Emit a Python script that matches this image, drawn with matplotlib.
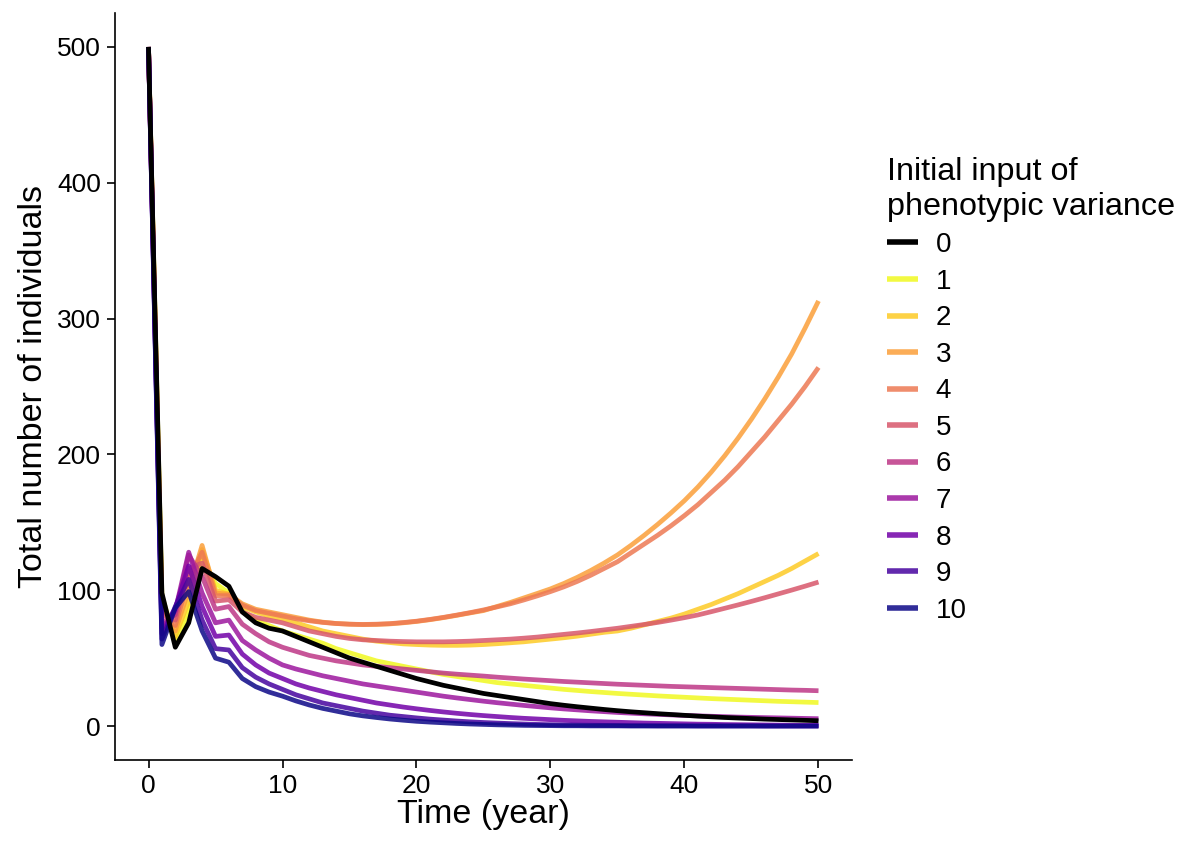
import numpy as np
import matplotlib
matplotlib.use("Agg")
from matplotlib import pyplot as plt

plt.rcParams['font.family'] = ['Liberation Sans', 'DejaVu Sans']

years = list(range(0, 51))

# total individuals per year, one list per initial phenotypic variance
var0 = [500, 98, 58, 76, 116, 110, 103, 84, 76, 72, 70, 66, 62, 58, 54, 50, 47, 44, 41, 38,
        35, 32.5, 30, 28, 26, 24, 22.5, 21, 19.5, 18, 16.5, 15.3, 14.2, 13.2, 12.2, 11.3, 10.5, 9.8, 9.1, 8.5,
        7.9, 7.3, 6.8, 6.3, 5.9, 5.5, 5.1, 4.8, 4.5, 4.2, 3.9]
var1 = [500, 96, 62, 84, 122, 105, 98, 85, 78, 74, 70, 67, 64, 61, 57, 54, 51, 48, 46, 44,
        42, 40, 38, 36.5, 35, 33.5, 32, 31, 30, 29, 28, 27, 26.2, 25.4, 24.7, 24, 23.4, 22.8, 22.2, 21.7,
        21.2, 20.7, 20.2, 19.8, 19.4, 19, 18.6, 18.2, 17.9, 17.6, 17.3]
var2 = [500, 93, 66, 92, 130, 100, 97, 88, 84, 81, 79, 76, 73, 70, 68, 66, 64, 62.5, 61.5, 60.5,
        60, 59.6, 59.4, 59.4, 59.6, 60, 60.6, 61.3, 62, 63, 64, 65, 66.2, 67.6, 69, 70, 72, 74.5, 77, 79.5,
        82.5, 86, 89.5, 93.5, 97.5, 102, 106.5, 111, 116, 121.5, 127]
var3 = [500, 90, 70, 100, 133, 98, 97, 90, 86, 84, 82, 80, 78, 76.5, 75.5, 75, 74.7, 74.8, 75.2, 76,
        77, 78.3, 79.8, 81.5, 83.3, 85, 88, 91, 94.3, 97.6, 101, 105, 109.5, 114.5, 120, 126, 133, 140.5, 148.5, 157,
        166, 176, 187, 199, 212, 226, 241, 257, 274, 293, 313]
var4 = [500, 86, 74, 108, 128, 96, 96, 89, 85, 83, 81, 79, 77.5, 76.3, 75.5, 75, 74.8, 75, 75.4, 76.2,
        77.2, 78.5, 80, 81.7, 83.5, 85.5, 87.7, 90, 92.8, 95.8, 99, 102.5, 106.5, 111, 116, 121, 127.5, 134, 140.5, 147.5,
        155, 163, 172, 181, 191, 202, 213, 225, 237, 250, 264]
var5 = [500, 82, 78, 116, 120, 92, 93, 84, 80, 78, 76, 73, 70, 68, 66, 64.5, 63.5, 63, 62.5, 62.2,
        62, 62, 62, 62.2, 62.5, 63, 63.5, 64, 64.7, 65.5, 66.5, 67.5, 68.5, 69.6, 70.8, 72, 73.4, 74.8, 76.3, 78,
        79.8, 81.8, 84.2, 86.7, 89.2, 91.8, 94.5, 97.3, 100.1, 103, 106]
var6 = [500, 76, 82, 126, 110, 86, 88, 75, 68, 62, 58, 55, 52, 50, 48, 46.5, 45, 44, 43, 42,
        41, 40, 39, 38.2, 37.5, 36.8, 36, 35.3, 34.6, 34, 33.4, 32.8, 32.3, 31.8, 31.3, 30.8, 30.4, 30, 29.6, 29.2,
        28.9, 28.6, 28.3, 28, 27.7, 27.4, 27.1, 26.8, 26.5, 26.3, 26]
var7 = [500, 72, 85, 128, 98, 76, 78, 63, 56, 50, 45, 42, 39.5, 37, 35, 33, 31, 29.5, 28, 26.5,
        25, 23.5, 22, 20.7, 19.5, 18.3, 17.2, 16.2, 15.2, 14.3, 13.4, 12.6, 11.9, 11.2, 10.6, 10, 9.5, 9, 8.6, 8.2,
        7.8, 7.5, 7.2, 6.9, 6.6, 6.4, 6.2, 6, 5.8, 5.6, 5.4]
var8 = [500, 68, 87, 118, 88, 66, 67, 53, 45, 39, 35, 31, 28, 25.5, 23, 21, 19, 17, 15.5, 14,
        12.7, 11.5, 10.4, 9.4, 8.5, 7.7, 7, 6.3, 5.7, 5.2, 4.7, 4.2, 3.8, 3.4, 3.1, 2.8, 2.5, 2.2, 2, 1.8,
        1.6, 1.4, 1.3, 1.1, 1, 0.9, 0.8, 0.7, 0.6, 0.5, 0.5]
var9 = [500, 64, 88, 108, 78, 57, 56, 43, 36, 31, 27, 23, 20, 17, 15, 13, 11, 9.5, 8, 7,
        6, 5.1, 4.4, 3.7, 3.1, 2.6, 2.2, 1.8, 1.5, 1.2, 1, 0.8, 0.7, 0.6, 0.5, 0.4, 0.3, 0.3, 0.2, 0.2,
        0.2, 0.1, 0.1, 0.1, 0.1, 0.1, 0, 0, 0, 0, 0]
var10 = [500, 60, 87, 99, 70, 50, 47, 35, 29, 25, 22, 18.5, 15.5, 13, 11, 9, 7.5, 6.3, 5.2, 4.3,
         3.5, 2.9, 2.4, 1.9, 1.5, 1.2, 0.9, 0.7, 0.5, 0.4, 0.3, 0.2, 0.2, 0.1, 0.1, 0.1, 0, 0, 0, 0,
         0, 0, 0, 0, 0, 0, 0, 0, 0, 0, 0]

levels = ['0', '1', '2', '3', '4', '5', '6', '7', '8', '9', '10']
series = [var0, var1, var2, var3, var4, var5, var6, var7, var8, var9, var10]

fig = plt.figure(figsize=(11.86, 8.41), dpi=100)
ax = fig.add_axes([115 / 1186, 1 - 760 / 841, (852 - 115) / 1186, (760 - 13) / 841])

cmap = plt.get_cmap('plasma')
cols = [cmap(v) for v in np.linspace(1, 0, 10)]

handles = []
for i in range(1, 11):
    h, = ax.plot(years, series[i], color=cols[i - 1], lw=3.4, alpha=0.85,
                 solid_capstyle='butt', label=levels[i])
    handles.append(h)
h0, = ax.plot(years, var0, color='black', lw=3.4, solid_capstyle='butt', label=levels[0])
handles = [h0] + handles

ax.set_xlim(-2.5, 52.5)
ax.set_ylim(-25, 525)
ax.set_xticks(np.arange(0, 51, 10))
ax.set_yticks(np.arange(0, 501, 100))
ax.tick_params(labelsize=19, length=6, width=1.2, colors='black', pad=4)
for s in ['top', 'right']:
    ax.spines[s].set_visible(False)
for s in ['left', 'bottom']:
    ax.spines[s].set_linewidth(1.2)

ax.set_xlabel("Time (year)", fontsize=24.5, labelpad=1)
ax.set_ylabel("Total number of individuals", fontsize=24.5, labelpad=6)

leg = fig.legend(handles=handles, title="Initial input of\nphenotypic variance",
                 loc='upper left', bbox_to_anchor=(862 / 1186, 1 - 132 / 841),
                 frameon=False, fontsize=20, title_fontsize=23.3, handlelength=1.1,
                 handletextpad=0.65, labelspacing=0.38, alignment='left')
for lh in leg.get_lines():
    lh.set_linewidth(4)

fig.savefig('out.png', dpi=100)
